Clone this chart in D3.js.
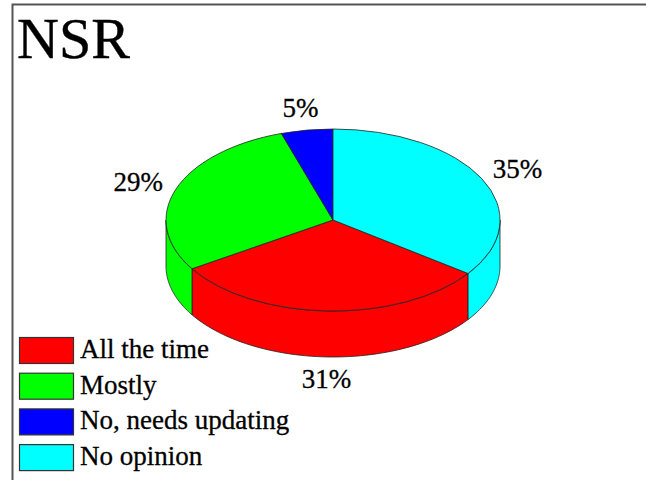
<!DOCTYPE html>
<html>
<head>
<meta charset="utf-8">
<script src="https://cdn.jsdelivr.net/npm/d3@7"></script>
<style>
  body { margin: 0; background: #fff; }
</style>
</head>
<body>
<div id="chart"></div>
<script>
var title = "NSR";
var categories = ["All the time", "Mostly", "No, needs updating", "No opinion"];
var values = [31, 29, 5, 35];
var colors = ["#ff0000", "#00ff00", "#0000ff", "#00ffff"];

var width = 646, height = 480;
var cx = 333, cy = 220, rx = 167, ry = 91, depth = 46;
var serif = "'Liberation Serif', 'Times New Roman', Times, serif";

var svg = d3.select("#chart").append("svg")
    .attr("width", width)
    .attr("height", height);

// frame (only left + top edges show in the window)
svg.append("rect")
    .attr("x", 12.5).attr("y", 4.5)
    .attr("width", 800).attr("height", 600)
    .attr("fill", "none")
    .attr("stroke", "#555")
    .attr("stroke-width", 2);

svg.append("text")
    .attr("x", 17).attr("y", 58)
    .attr("font-family", serif)
    .attr("font-size", 58)
    .attr("fill", "#000")
    .attr("stroke", "#000").attr("stroke-width", 0.4)
    .text(title);

// unit circle -> ellipse
var xs = d3.scaleLinear().domain([-1, 1]).range([cx - rx, cx + rx]);
var ys = d3.scaleLinear().domain([-1, 1]).range([cy - ry, cy + ry]);

var total = d3.sum(values);
var start = 2 * Math.PI * values[values.length - 1] / total - 2 * Math.PI;
var pie = d3.pie().sort(null).startAngle(start).endAngle(start + 2 * Math.PI);
var arcs = pie(values);

function pt(a, dy) {
    return [xs(Math.sin(a)), ys(-Math.cos(a)) + (dy || 0)];
}

var line = d3.line();

// side walls, front half only
var sides = svg.append("g");
arcs.forEach(function(d, i) {
    [[Math.PI / 2, 3 * Math.PI / 2], [-3 * Math.PI / 2, -Math.PI / 2]].forEach(function(r) {
        var a0 = Math.max(d.startAngle, r[0]), a1 = Math.min(d.endAngle, r[1]);
        if (a1 <= a0) return;
        var n = 60, top = [], bot = [];
        for (var k = 0; k <= n; k++) {
            var a = a0 + (a1 - a0) * k / n;
            top.push(pt(a, 0));
            bot.push(pt(a, depth));
        }
        sides.append("path")
            .attr("d", line(top.concat(bot.reverse())) + "Z")
            .attr("fill", colors[i])
            .attr("stroke", "#222")
            .attr("stroke-width", 0.8);
    });
});

// top faces
var arc = d3.arc().innerRadius(0).outerRadius(1);
svg.append("g")
    .attr("transform", "translate(" + cx + "," + cy + ") scale(" + rx + "," + ry + ")")
    .selectAll("path")
    .data(arcs)
    .enter().append("path")
    .attr("d", arc)
    .attr("fill", function(d, i) { return colors[i]; })
    .attr("stroke", "#222")
    .attr("stroke-width", 0.8)
    .attr("vector-effect", "non-scaling-stroke");

// percentage labels
svg.append("g").selectAll("text")
    .data(arcs)
    .enter().append("text")
    .attr("text-anchor", "middle")
    .attr("dominant-baseline", "central")
    .attr("font-family", serif)
    .attr("font-size", 27)
    .attr("fill", "#000")
    .attr("stroke", "#000").attr("stroke-width", 0.3)
    .attr("x", function(d) {
        var m = (d.startAngle + d.endAngle) / 2;
        return cx + (rx + 40) * Math.sin(m);
    })
    .attr("y", function(d) {
        var m = (d.startAngle + d.endAngle) / 2;
        var c = Math.cos(m);
        return cy - (ry + 22) * c + (c < 0 ? depth : 0);
    })
    .text(function(d) { return Math.round(d.value / total * 100) + "%"; });

// legend
var legend = svg.append("g").attr("transform", "translate(19,337)");
var rows = legend.selectAll("g")
    .data(categories)
    .enter().append("g")
    .attr("transform", function(d, i) { return "translate(0," + (i * 35.7) + ")"; });
rows.append("rect")
    .attr("x", 0.5).attr("y", 0.5)
    .attr("width", 54).attr("height", 26)
    .attr("fill", function(d, i) { return colors[i]; })
    .attr("stroke", "#333")
    .attr("stroke-width", 1.2);
rows.append("text")
    .attr("x", 61).attr("y", 21)
    .attr("font-family", serif)
    .attr("font-size", 27)
    .attr("fill", "#000")
    .attr("stroke", "#000").attr("stroke-width", 0.3)
    .text(function(d) { return d; });
</script>
</body>
</html>
